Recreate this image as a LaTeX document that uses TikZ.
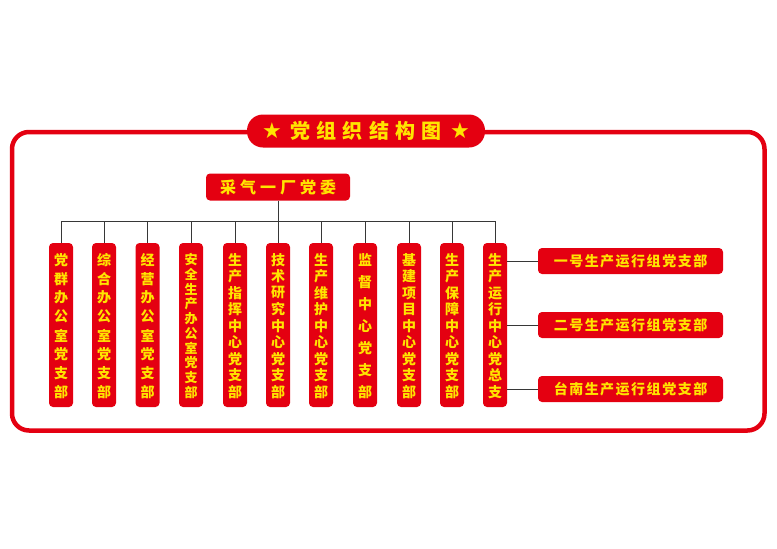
\documentclass[tikz,border=0pt]{standalone}
\usepackage{fontspec}
\newfontfamily\cjk{Noto Sans CJK SC}
\newfontfamily\symf{DejaVu Sans}
\definecolor{cred}{RGB}{228,0,17}
\definecolor{cyel}{RGB}{255,228,0}
\definecolor{cline}{RGB}{55,55,55}
\newcommand\vcol[5][14]{%
  \node[vbox] (#2) at (#3,325) {};
  \foreach \c [count=\j] in {#5} {\node[ch, font=\cjk\bfseries\fontsize{#1}{#1}\selectfont] at (#3,{260+(\j-1)*132/(#4-1)}) {\c};}
  \draw[conn] (#2.north) -- (#2.north |- bus);
}
\begin{document}
\begin{tikzpicture}[x=1pt,y=-1pt]
\useasboundingbox (0,0) rectangle (777,549);
\tikzset{
 vbox/.style={fill=cred, rounded corners=4pt, minimum width=24pt, minimum height=164pt, inner sep=0pt},
 hbox/.style={fill=cred, rounded corners=4pt, minimum width=185pt, minimum height=26pt, inner sep=0pt, text=cyel, font=\cjk\bfseries\fontsize{14}{14}\selectfont},
 ch/.style={text=cyel, inner sep=0pt},
 conn/.style={draw=cline, line width=0.9pt},
}
% outer frame
\draw[cred, line width=4.5pt, rounded corners=17pt] (12,132) rectangle (764.5,430.5);
% title
\node[fill=cred, rounded corners=16pt, minimum width=238pt, minimum height=33pt, inner sep=0pt] (title) at (366,131) {};
\node[text=cyel, font=\cjk\bfseries\fontsize{20}{20}\selectfont, inner sep=0pt] (ttext) at (title) {党\hspace{6.4pt}组\hspace{6.4pt}织\hspace{6.4pt}结\hspace{6.4pt}构\hspace{6.4pt}图};
\node[text=cyel, font=\symf\fontsize{22}{22}\selectfont, inner sep=0pt] (s1) at (272,131) {★};
\node[text=cyel, font=\symf\fontsize{22}{22}\selectfont, inner sep=0pt] (s2) at (460,131) {★};
% top node
\node[fill=cred, rounded corners=4pt, minimum width=144pt, minimum height=27pt, inner sep=0pt, text=cyel, font=\cjk\bfseries\fontsize{16}{16}\selectfont] (top) at (278,187) {采\hspace{4pt}气\hspace{4pt}一\hspace{4pt}厂\hspace{4pt}党\hspace{4pt}委};
\coordinate (bus) at (278,221);
\draw[conn] (top.south) -- (bus);
% columns
\vcol{c1}{61}{8}{党,群,办,公,室,党,支,部}
\vcol{c2}{104}{8}{综,合,办,公,室,党,支,部}
\vcol{c3}{147.5}{8}{经,营,办,公,室,党,支,部}
\vcol[13]{c4}{191}{10}{安,全,生,产,办,公,室,党,支,部}
\vcol{c5}{235}{9}{生,产,指,挥,中,心,党,支,部}
\vcol{c6}{278}{9}{技,术,研,究,中,心,党,支,部}
\vcol{c7}{321}{9}{生,产,维,护,中,心,党,支,部}
\vcol{c8}{365}{7}{监,督,中,心,党,支,部}
\vcol{c9}{409}{9}{基,建,项,目,中,心,党,支,部}
\vcol{c10}{452}{9}{生,产,保,障,中,心,党,支,部}
\vcol{c11}{495}{9}{生,产,运,行,中,心,党,总,支}
\draw[conn] (c1.north |- bus) -- (c11.north |- bus);
% right boxes
\node[hbox] (r1) at (630.5,261) {一\hspace{1.5pt}号\hspace{1.5pt}生\hspace{1.5pt}产\hspace{1.5pt}运\hspace{1.5pt}行\hspace{1.5pt}组\hspace{1.5pt}党\hspace{1.5pt}支\hspace{1.5pt}部};
\node[hbox] (r2) at (630.5,325) {二\hspace{1.5pt}号\hspace{1.5pt}生\hspace{1.5pt}产\hspace{1.5pt}运\hspace{1.5pt}行\hspace{1.5pt}组\hspace{1.5pt}党\hspace{1.5pt}支\hspace{1.5pt}部};
\node[hbox] (r3) at (630.5,389) {台\hspace{1.5pt}南\hspace{1.5pt}生\hspace{1.5pt}产\hspace{1.5pt}运\hspace{1.5pt}行\hspace{1.5pt}组\hspace{1.5pt}党\hspace{1.5pt}支\hspace{1.5pt}部};
\draw[conn] (c11.east |- r1.west) -- (r1.west);
\draw[conn] (c11.east |- r2.west) -- (r2.west);
\draw[conn] (c11.east |- r3.west) -- (r3.west);
\end{tikzpicture}
\end{document}
